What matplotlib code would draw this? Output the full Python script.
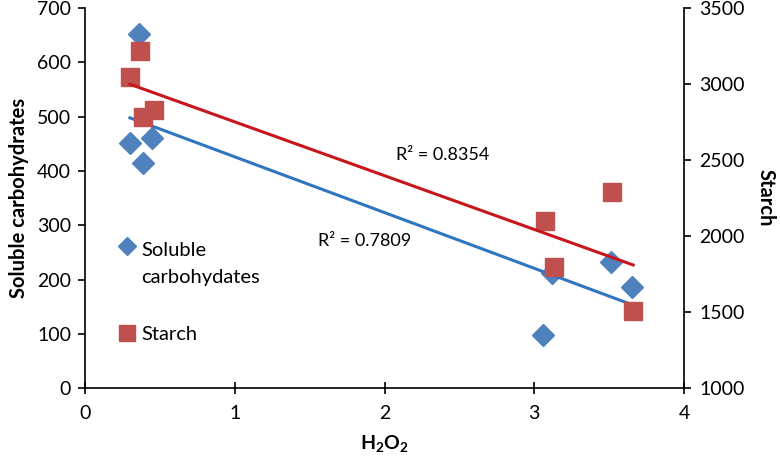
import matplotlib.pyplot as plt
import numpy as np

plt.rcParams['font.family'] = ['Lato', 'DejaVu Sans']
plt.rcParams['mathtext.fontset'] = 'custom'
plt.rcParams['mathtext.rm'] = 'Lato'
plt.rcParams['mathtext.bf'] = 'Lato:bold'

# soluble carbohydrates (left axis)
h2o2_sc = [0.36, 0.30, 0.45, 0.39, 3.51, 3.65, 3.12, 3.06]
sol_carb = [652, 451, 460, 414, 232, 186, 212, 98]

# starch (right axis)
h2o2_st = [0.37, 0.30, 0.46, 0.39, 3.52, 3.07, 3.13, 3.66]
starch = [3217, 3046, 2829, 2783, 2289, 2099, 1796, 1507]

blue = '#4F81BD'
red = '#C0504D'

fig = plt.figure(figsize=(7.8, 4.66), dpi=100)
ax = fig.add_axes([0.109, 0.167, 0.768, 0.816])
ax2 = ax.twinx()

# trendlines
def trend(x, y):
    p = np.polyfit(x, y, 1)
    xs = np.array([min(x), max(x)])
    return xs, np.polyval(p, xs)

sc_line, = ax.plot(h2o2_sc, sol_carb, linestyle='none', marker='D', markersize=11,
                   color=blue, label='Soluble\ncarbohydates')
xs, ys = trend(h2o2_sc, sol_carb)
ax.plot(xs, ys, color='#2F75C0', linewidth=2.2)

st_line, = ax2.plot(h2o2_st, starch, linestyle='none', marker='s', markersize=13,
                    color=red, label='Starch')
xs, ys = trend(h2o2_st, starch)
ax2.plot(xs, ys, color='#C8161D', linewidth=2.2)

ax.text(2.39, 429, 'R² = 0.8354', fontsize=13, ha='center', va='center')
ax.text(1.87, 271, 'R² = 0.7809', fontsize=13, ha='center', va='center')

ax.set_xlim(0, 4)
ax.set_ylim(0, 700)
ax2.set_ylim(1000, 3500)
ax.set_xticks([0, 1, 2, 3, 4])
ax.set_yticks(np.arange(0, 701, 100))
ax2.set_yticks(np.arange(1000, 3501, 500))

ax.tick_params(axis='x', direction='inout', length=8, width=1.2, labelsize=14, pad=8)
ax.tick_params(axis='y', direction='out', length=5, width=1.2, labelsize=14, pad=5)
ax2.tick_params(axis='y', direction='out', length=5, width=1.2, labelsize=14, pad=6)
for a in (ax, ax2):
    for s in a.spines.values():
        s.set_visible(False)
ax.spines['left'].set_visible(True)
ax.spines['bottom'].set_visible(True)
ax2.spines['right'].set_visible(True)
for s in (ax.spines['left'], ax.spines['bottom'], ax2.spines['right']):
    s.set_linewidth(1.2)

ax.set_xlabel(r'$\mathbf{H_2O_2}$', fontsize=14, labelpad=8)
ax.set_ylabel('Soluble carbohydrates', fontsize=14.5, fontweight='bold', labelpad=6)
ax2.set_ylabel('Starch', fontsize=14.5, fontweight='bold', rotation=270,
               va='bottom', labelpad=8)

leg = ax2.legend([sc_line, st_line], ['Soluble\ncarbohydates', 'Starch'],
                 loc='lower left', bbox_to_anchor=(0.02, 0.07),
                 frameon=False, fontsize=14.5, handletextpad=0.1, handlelength=1.2,
                 markerscale=0.85, labelspacing=2.0)
for t in leg.get_texts():
    t.set_linespacing(1.75)
# put the diamond next to the first line of its label
h = leg.legend_handles[0]
h.set_ydata(np.asarray(h.get_ydata()) + 13)

fig.savefig('out.png', dpi=100)
